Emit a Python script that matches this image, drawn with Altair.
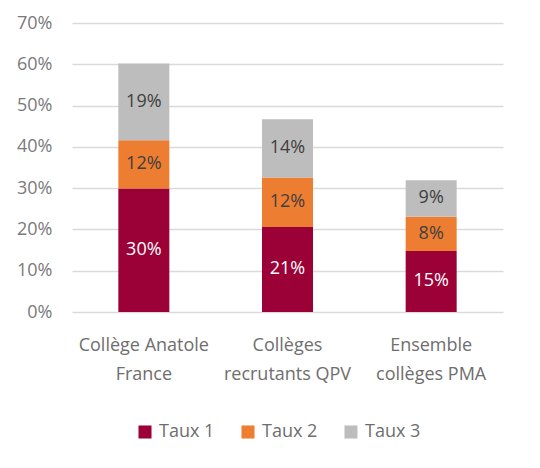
import altair as alt
import pandas as pd

categories = ["Collège Anatole France", "Collèges recrutants QPV", "Ensemble collèges PMA"]
category_lines = [["Collège Anatole", "France"], ["Collèges", "recrutants QPV"], ["Ensemble", "collèges PMA"]]
series = ["Taux 1", "Taux 2", "Taux 3"]
taux1 = [29.9, 20.6, 14.8]
taux2 = [11.7, 12.0, 8.3]
taux3 = [18.6, 14.1, 8.8]
labels1 = ["30%", "21%", "15%"]
labels2 = ["12%", "12%", "8%"]
labels3 = ["19%", "14%", "9%"]
colors = ["#9b0036", "#ed7d31", "#bdbdbd"]
text_colors = ["#ffffff", "#404040", "#404040"]

rows = []
for s_i, (vals, labs) in enumerate([(taux1, labels1), (taux2, labels2), (taux3, labels3)]):
    for c_i, cat in enumerate(categories):
        rows.append({"cat": cat, "serie": series[s_i], "order": s_i,
                     "value": vals[c_i] / 100, "label": labs[c_i]})
df = pd.DataFrame(rows)

expr = " : ".join(
    f"datum.value == '{c}' ? {lines!r}" for c, lines in zip(categories, category_lines)
) + " : datum.value"

FONT = "Open Sans"
FS = 18

base = alt.Chart(df).transform_stack(
    stack="value", as_=["y0", "y1"], groupby=["cat"], sort=[alt.SortField("order")]
).transform_calculate(mid="(datum.y0 + datum.y1) / 2")

xenc = alt.X("cat:N", sort=categories, title=None,
             scale=alt.Scale(paddingInner=0.645, paddingOuter=0.3225),
             axis=alt.Axis(labelExpr=expr, labelAngle=0, labelFontSize=FS,
                           labelColor="#6e6e6e", labelFont=FONT, labelLineHeight=29,
                           labelPadding=24, ticks=False, domain=False))

bars = base.mark_bar().encode(
    x=xenc,
    y=alt.Y("y0:Q", title=None,
            scale=alt.Scale(domain=[0, 0.7]),
            axis=alt.Axis(format=".0%", values=[0, .1, .2, .3, .4, .5, .6, .7],
                          labelFontSize=FS, labelColor="#7a7a7a", labelFont=FONT,
                          labelPadding=20, ticks=False, domain=False,
                          gridColor="#dadada", gridWidth=1.5)),
    y2="y1:Q",
    color=alt.Color("serie:N", scale=alt.Scale(domain=series, range=colors),
                    legend=alt.Legend(title=None, orient="none", direction="horizontal",
                                      legendX=64, legendY=400, symbolType="square",
                                      symbolSize=170, symbolStrokeWidth=0,
                                      labelFontSize=FS, labelColor="#6e6e6e",
                                      labelFont=FONT, columnPadding=24, labelOffset=5)),
)

text = base.mark_text(fontSize=FS, font=FONT).encode(
    x=alt.X("cat:N", sort=categories),
    y="mid:Q",
    text="label:N",
    color=alt.Color("serie:N", scale=alt.Scale(domain=series, range=text_colors), legend=None),
)

chart = alt.layer(bars, text).resolve_scale(color="independent").properties(
    width=431, height=289,
    autosize=alt.AutoSizeParams(type="none"),
    padding={"left": 64, "top": 15, "right": 25, "bottom": 140},
).configure_view(stroke=None).configure_axis(gridCap="butt")

chart.save("out.html", embed_options={"renderer": "svg", "actions": False})
